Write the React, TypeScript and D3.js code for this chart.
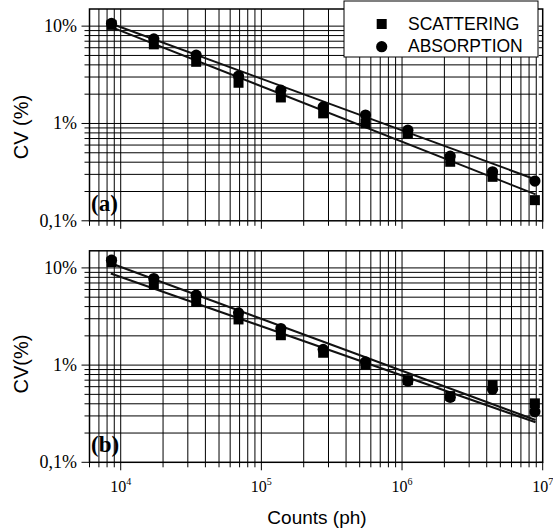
import { line, scaleLog } from 'd3';
import React from 'react';

// counts of the 11 acquisitions (photons)
const counts = [8.6e3, 1.72e4, 3.44e4, 6.88e4, 1.376e5, 2.75e5, 5.5e5, 1.1e6, 2.2e6, 4.4e6, 8.8e6];

// CV (%)
const scatteringA = [10.3, 6.5, 4.3, 2.62, 1.85, 1.27, 1.0, 0.79, 0.404, 0.283, 0.163];
const absorptionA = [10.66, 7.4, 5.04, 3.07, 2.2, 1.48, 1.22, 0.854, 0.462, 0.319, 0.256];

// CV (%)
const scatteringB = [11.5, 6.75, 4.47, 2.95, 2.03, 1.34, 1.02, 0.7, 0.48, 0.623, 0.404];
const absorptionB = [12.0, 7.78, 5.24, 3.45, 2.38, 1.45, 1.08, 0.685, 0.466, 0.563, 0.331];

// fitted lines: values at the first and last fit count
const fitCounts = [8.5e3, 8.9e6];
const scatteringFitA = [9.84, 0.187];
const absorptionFitA = [10.66, 0.266];
const scatteringFitB = [8.76, 0.258];
const absorptionFitB = [11.18, 0.272];

const yTickValues = [0.1, 1, 10];
const yTickLabels = ['0,1%', '1%', '10%'];
const xTickPowers = [4, 5, 6, 7];

const legendNames = ['SCATTERING', 'ABSORPTION'];

const serif = '"Liberation Serif", "Times New Roman", serif';
const sans = '"Liberation Sans", Arial, sans-serif';

const x = scaleLog().domain([6000, 1e7]).range([89.5, 542.7]);
const xGridEnd = x(9e6);

const Panel = ({ top, bottom, scattering, absorption, scatFit, absFit, tag, yLabel, yLabelY, xLabels }) => {
  const y = scaleLog().domain([0.1, 15]).range([bottom, top]);
  const [x0, x1] = x.range();
  const fitLine = line()
    .x((d, i) => x(fitCounts[i]))
    .y((d) => y(d));
  const xt = x.ticks();
  const yt = y.ticks().filter((v) => v <= 10.0001);
  const isMajor = (v) => Math.abs(Math.log10(v) - Math.round(Math.log10(v))) < 1e-6;

  return (
    <g>
      {/* vertical grid */}
      {xt
        .filter((v) => v < 9.5e6 && v > 6000)
        .map((v) => (
          <line key={'vx' + v} x1={x(v)} x2={x(v)} y1={top} y2={bottom} stroke="#000" strokeWidth={1} />
        ))}
      {/* horizontal grid */}
      {yt
        .filter((v) => v > 0.1001)
        .map((v) => (
          <line key={'hy' + v} x1={x0} x2={xGridEnd} y1={y(v)} y2={y(v)} stroke="#000" strokeWidth={1} />
        ))}
      {/* left ticks */}
      {yt.map((v) => (
        <line key={'ly' + v} x1={x0 - (isMajor(v) ? 8 : 5)} x2={x0} y1={y(v)} y2={y(v)} stroke="#000" strokeWidth={1} />
      ))}
      {/* right inward ticks */}
      {yt.map((v) => (
        <line key={'ry' + v} x1={x1 - 4} x2={x1} y1={y(v)} y2={y(v)} stroke="#000" strokeWidth={1} />
      ))}
      {/* bottom ticks */}
      {xt.map((v) => (
        <line key={'bx' + v} x1={x(v)} x2={x(v)} y1={bottom} y2={bottom + (isMajor(v) ? 8 : 5)} stroke="#000" strokeWidth={1} />
      ))}
      {/* frame */}
      <rect x={x0} y={top} width={x1 - x0} height={bottom - top} fill="none" stroke="#000" strokeWidth={1.5} />

      {/* fits */}
      <path d={fitLine(scatFit)} fill="none" stroke="#111" strokeWidth={2} />
      <path d={fitLine(absFit)} fill="none" stroke="#111" strokeWidth={2} />

      {scattering.map((v, i) => (
        <rect key={'s' + i} x={x(counts[i]) - 5} y={y(v) - 5} width={10} height={10} fill="#000" />
      ))}
      {absorption.map((v, i) => (
        <circle key={'c' + i} cx={x(counts[i])} cy={y(v)} r={5.6} fill="#000" />
      ))}

      {/* y tick labels */}
      {yTickValues.map((v, i) => (
        <text key={'yl' + v} x={77} y={y(v)} dy="0.33em" textAnchor="end" fontFamily={serif} fontSize={18}>
          {yTickLabels[i]}
        </text>
      ))}

      {xLabels &&
        xTickPowers.map((p) => (
          <text key={'xl' + p} x={x(Math.pow(10, p))} y={bottom + 30} textAnchor="middle" fontFamily={serif} fontSize={16}>
            10
            <tspan fontSize={10} dy={-7}>
              {p}
            </tspan>
          </text>
        ))}

      <text x={91} y={bottom - 10} fontFamily={serif} fontWeight="bold" fontSize={23}>
        {tag}
      </text>
      <text
        transform={`translate(${28},${yLabelY}) rotate(-90)`}
        textAnchor="middle"
        fontFamily={sans}
        fontSize={20}
      >
        {yLabel}
      </text>
    </g>
  );
};

export default function App() {
  return (
    <svg width={553} height={531} style={{ position: 'absolute', left: 0, top: 0, background: '#fff' }}>
      <Panel
        top={9}
        bottom={220.8}
        scattering={scatteringA}
        absorption={absorptionA}
        scatFit={scatteringFitA}
        absFit={absorptionFitA}
        tag="(a)"
        yLabel="CV (%)"
        yLabelY={127}
        xLabels={false}
      />
      <Panel
        top={250.8}
        bottom={462.3}
        scattering={scatteringB}
        absorption={absorptionB}
        scatFit={scatteringFitB}
        absFit={absorptionFitB}
        tag="(b)"
        yLabel="CV(%)"
        yLabelY={364}
        xLabels={true}
      />

      {/* legend */}
      <g>
        <rect x={344} y={1} width={194} height={56} fill="#fff" stroke="#000" strokeWidth={1} />
        <rect x={376.7} y={19} width={10} height={10} fill="#000" />
        <circle cx={381.7} cy={46.7} r={5.6} fill="#000" />
        {legendNames.map((n, i) => (
          <text key={n} x={408} y={30 + i * 22.3} fontFamily={sans} fontSize={17.5}>
            {n}
          </text>
        ))}
      </g>

      <text x={317} y={524} textAnchor="middle" fontFamily={sans} fontSize={19}>
        Counts (ph)
      </text>
    </svg>
  );
}
